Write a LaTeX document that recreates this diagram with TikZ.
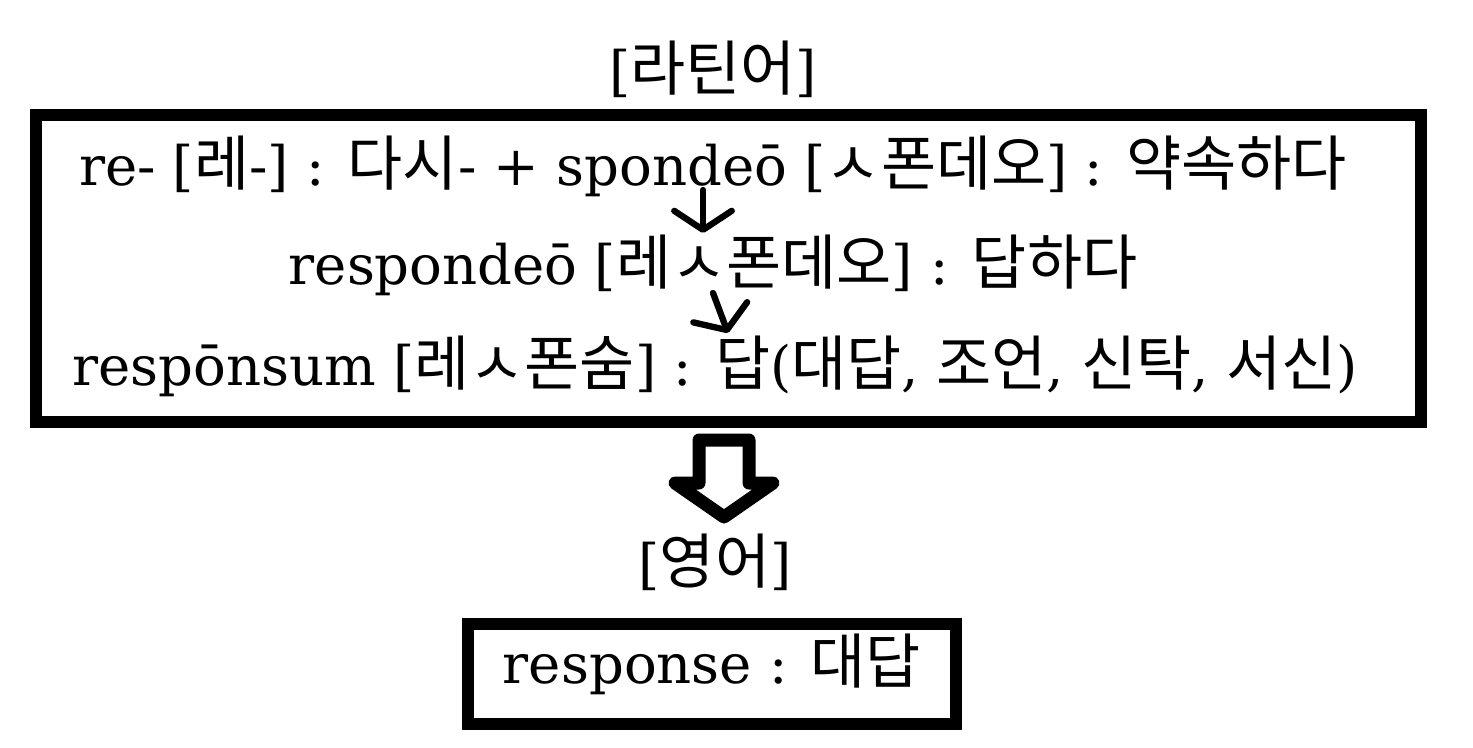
\documentclass[tikz,border=0pt]{standalone}
\usepackage{fontspec}
\setmainfont{DejaVu Serif}
\newfontfamily\kr{Noto Sans CJK KR}[Scale=1.1]
\usetikzlibrary{arrows.meta}

\begin{document}
\begin{tikzpicture}[
    txt/.style={font=\fontsize{31}{37}\selectfont, inner sep=0pt, anchor=base},
    frame/.style={draw, line width=0.24cm, inner sep=0pt},
    smallarrow/.style={line width=3.6pt, line cap=round,
      -{Straight Barb[length=0.38cm, width=1.15cm, round]}}
  ]
  \useasboundingbox (0,0) rectangle (29.46,-14.94);

  \node[txt] (lat) at (14.26,-1.8) {[{\kr 라틴어}]};
  \node[frame, minimum width=27.7cm, minimum height=6.14cm] (latbox) at (14.57,-5.37) {};

  \node[txt] (l1) at (14.26,-3.7) {re- [{\kr 레}-] : {\kr 다시}- + spondeō [{\kr ㅅ폰데오}] : {\kr 약속하다}};
  \node[txt] (l2) at (14.26,-5.68) {respondeō [{\kr 레ㅅ폰데오}] : {\kr 답하다}};
  \node[txt] (l3) at (14.3,-7.7) {respōnsum [{\kr 레ㅅ폰숨}] : {\kr 답}({\kr 대답}, {\kr 조언}, {\kr 신탁}, {\kr 서신})};

  \coordinate (s1) at (14.06,-3.8);
  \coordinate (e1) at (14.06,-4.66);
  \coordinate (s2) at (14.26,-5.86);
  \coordinate (e2) at (14.56,-6.66);
  \draw[smallarrow] (s1) -- (e1);
  \draw[smallarrow] (s2) -- (e2);

  % hollow arrow
  \draw[line width=0.26cm, line join=round]
    (13.98,-8.8) -- (14.98,-8.8) -- (14.98,-9.66) -- (15.46,-9.66)
    -- (14.48,-10.34) -- (13.5,-9.66) -- (13.98,-9.66) -- cycle;

  \node[txt] (eng) at (14.3,-11.66) {[{\kr 영어}]};
  \node[frame, minimum width=9.76cm, minimum height=2cm] (engbox) at (14.24,-13.48) {};
  \node[txt] (en) at (14.24,-13.66) {response : {\kr 대답}};

\end{tikzpicture}
\end{document}
